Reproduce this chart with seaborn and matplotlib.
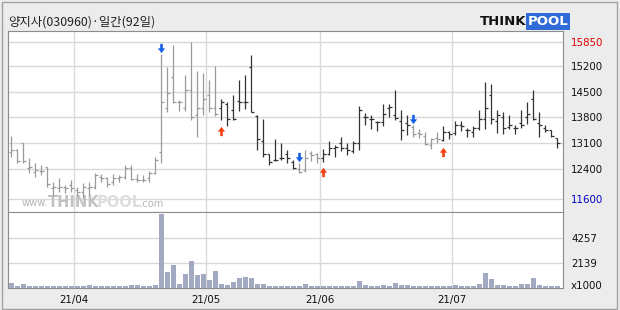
import matplotlib
matplotlib.use("Agg")
import matplotlib.pyplot as plt
import matplotlib.transforms as mtransforms
from matplotlib.path import Path
from matplotlib import font_manager
import matplotlib.patches as mpatches
import numpy as np
import pandas as pd
import seaborn as sns

# ---------------- data ----------------
title = "양지사(030960)·일간(92일)"
month_labels = ["21/04", "21/05", "21/06", "21/07"]
month_first_day = [11, 33, 52, 74]          # index of first trading day of each month
price_ticks = [15850, 15200, 14500, 13800, 13100, 12400, 11600]
vol_ticks = [4257, 2139]
vol_unit = "x1000"

open_ = [12860, 12920, 13100, 12440, 12330, 12350, 12450, 11880, 11880, 11930,
         11970, 11840, 11790, 11880, 11930, 12200, 12150, 12060, 12150, 12200,
         12440, 12130, 12110, 12150, 12290, 12860, 14050, 14890, 14230, 14050,
         14550, 13870, 14050, 14410, 14050, 14050, 14170, 13990, 14250, 14210,
         15180, 13850, 13160, 12800, 12640, 12690, 12800, 12600, 12410, 12380,
         12830, 12800, 12690, 12800, 12980, 13100, 12980, 12880, 13100, 13820,
         13760, 13670, 13690, 14050, 13870, 13700, 13640, 13550, 13370, 13310,
         13050, 13240, 13190, 13420, 13390, 13600, 13460, 13420, 13510, 13760,
         14410, 13700, 13820, 13550, 13510, 13640, 13820, 14300, 13640, 13510,
         13460, 13240]
high = [13300, 12950, 13100, 12690, 12560, 12510, 12460, 12060, 12150, 11970,
        12110, 11930, 12020, 12060, 12290, 12260, 12200, 12260, 12240, 12500,
        12500, 12260, 12240, 12350, 12740, 15520, 15170, 15760, 14270, 14950,
        15850, 15060, 15000, 14820, 15200, 14290, 14230, 14410, 14820, 14950,
        15480, 13870, 13760, 12800, 13220, 13120, 12920, 12650, 12560, 12920,
        12880, 12830, 12950, 13160, 13050, 13280, 13100, 13150, 14110, 13930,
        13870, 13700, 14170, 14170, 14550, 14000, 13870, 13600, 13490, 13420,
        13240, 13400, 13570, 13430, 13700, 13700, 13510, 13580, 14000, 14770,
        14710, 14000, 13940, 13870, 13600, 14000, 14230, 14550, 13940, 13600,
        13460, 13240]
low = [12740, 12560, 12580, 12290, 12200, 12240, 11930, 11660, 11790, 11750,
       11790, 11660, 11610, 11700, 11860, 12060, 11930, 11970, 12060, 12130,
       12110, 12040, 12040, 12040, 12260, 12580, 13940, 14180, 13980, 13980,
       13730, 13280, 13870, 13940, 13840, 13730, 13580, 13730, 13980, 14030,
       13940, 12920, 12740, 12500, 12620, 12650, 12560, 12410, 12290, 12330,
       12620, 12560, 12600, 12780, 12740, 12890, 12780, 12830, 12920, 13600,
       13490, 13440, 13580, 13800, 13730, 13190, 13330, 13280, 13240, 13050,
       12940, 13100, 13160, 13220, 13330, 13430, 13280, 13280, 13460, 13490,
       13620, 13370, 13350, 13480, 13340, 13510, 13620, 13730, 13280, 13400,
       13280, 12980]
close = [12920, 12620, 12620, 12450, 12380, 12350, 12000, 11930, 11930, 11900,
         11880, 11790, 11930, 11930, 12240, 12150, 11990, 12170, 12200, 12440,
         12130, 12110, 12110, 12290, 12650, 14210, 14460, 14210, 14210, 14550,
         13820, 14050, 14300, 14050, 13890, 14230, 13760, 13760, 14210, 14210,
         13940, 13210, 12800, 12600, 12640, 12690, 12690, 12440, 12330, 12690,
         12780, 12710, 12800, 12980, 13010, 12980, 12920, 13100, 14000, 13820,
         13760, 13690, 13890, 14090, 13780, 13460, 13600, 13350, 13340, 13070,
         13220, 13220, 13400, 13340, 13600, 13570, 13460, 13510, 13760, 14050,
         13750, 13870, 13510, 13600, 13510, 13600, 13890, 13760, 13600, 13460,
         13300, 13100]
volume = [410, 210, 325, 185, 210, 210, 155, 210, 155, 155,
          155, 155, 155, 240, 155, 155, 155, 155, 155, 155,
          240, 240, 155, 155, 240, 6270, 1370, 1940, 325, 1175,
          2280, 1090, 1175, 665, 1430, 325, 240, 495, 805, 920,
          835, 325, 325, 155, 155, 155, 155, 155, 155, 325,
          155, 155, 155, 155, 155, 155, 155, 155, 580, 240,
          155, 155, 240, 155, 410, 240, 240, 155, 155, 155,
          155, 155, 155, 155, 240, 155, 155, 155, 325, 1260,
          750, 240, 240, 155, 155, 325, 325, 835, 240, 155,
          155, 155]
sell_signals = [25, 48, 67]
buy_signals = [35, 52, 72]

# ---------------- style ----------------
sns.set_style("white")
names = {f.name for f in font_manager.fontManager.ttflist}
narrow = "Liberation Sans Narrow" in names
num_font = ["Liberation Sans Narrow", "DejaVu Sans"] if narrow else ["DejaVu Sans"]
num_size = 8.8 if narrow else 7.4
kr_font = ["Noto Sans CJK KR", "DejaVu Sans"]
plt.rcParams['font.family'] = kr_font

BG = '#ececec'
GRID = '#d9d9d9'
SPINE = '#8c8c8c'
GRAY_BAR = '#9a9a9a'
DARK_BAR = '#333333'
VOL = '#a2aac2'

n = len(close)
idx = np.arange(n)
df = pd.DataFrame({"i": idx, "open": open_, "high": high, "low": low,
                   "close": close, "volume": volume})

# state colour: gray after sell signal, dark after buy signal
state = []
cur = 'gray'
for i in idx:
    if i in sell_signals:
        cur = 'gray'
    if i in buy_signals:
        cur = 'dark'
    state.append(cur)
df["color"] = [GRAY_BAR if s == 'gray' else DARK_BAR for s in state]

W, H = 620, 310
fig = plt.figure(figsize=(6.2, 3.1), dpi=100, facecolor=BG)
fx = lambda p: p / W
fy = lambda p: 1 - p / H
L, R = 8, 562.7
ax = fig.add_axes([fx(L), fy(212), fx(R) - fx(L), fy(31) - fy(212)])
axv = fig.add_axes([fx(L), fy(288), fx(R) - fx(L), fy(212) - fy(288)])

for a in (ax, axv):
    a.set_facecolor('white')
    for s in a.spines.values():
        s.set_color(SPINE)
        s.set_linewidth(0.8)

xlim = (-0.55, n - 1 + 0.9)
grid_x = [m - 0.5 for m in month_first_day]

# ---- price panel ----
ax.set_ylim(11240, 16143)
ax.set_xlim(*xlim)
for gx in grid_x:
    ax.axvline(gx, color=GRID, lw=1.0, zorder=0)
for gy in price_ticks:
    ax.axhline(gy, color=GRID, lw=1.0, zorder=0)

tick = 0.42
lw_bar = 0.9
ax.vlines(df["i"], df["low"], df["high"], colors=df["color"], lw=lw_bar, zorder=3)
ax.hlines(df["open"], df["i"] - tick, df["i"], colors=df["color"], lw=lw_bar, zorder=3)
ax.hlines(df["close"], df["i"], df["i"] + tick, colors=df["color"], lw=lw_bar, zorder=3)

# signal arrows
down = Path([(-0.14, 0.5), (0.14, 0.5), (0.14, 0.02), (0.39, 0.02), (0, -0.5),
             (-0.39, 0.02), (-0.14, 0.02), (-0.14, 0.5)],
            [Path.MOVETO] + [Path.LINETO] * 6 + [Path.CLOSEPOLY])
up = Path([(x, -y) for x, y in down.vertices], down.codes)
tr_down = mtransforms.offset_copy(ax.transData, fig=fig, y=6.0, units='dots')
tr_up = mtransforms.offset_copy(ax.transData, fig=fig, y=-10.5, units='dots')
sd = df.loc[sell_signals]
bd = df.loc[buy_signals]
ax.scatter(sd["i"], sd["high"], marker=down, s=45, color='#1560e8',
           linewidths=0, transform=tr_down, zorder=5, clip_on=False)
ax.scatter(bd["i"], bd["low"], marker=up, s=45, color='#f5400f',
           linewidths=0, transform=tr_up, zorder=5, clip_on=False)

ax.set_xticks([])
ax.yaxis.tick_right()
ax.set_yticks(price_ticks)
ax.set_yticklabels([str(v) for v in price_ticks], family=num_font, fontsize=num_size)
ax.tick_params(axis='y', length=0, pad=6)
ax.grid(False)
labs = ax.get_yticklabels()
labs[0].set_color('#e00000')
labs[-1].set_color('#0000c8')
for lab in labs[1:-1]:
    lab.set_color('#111111')
ax.set_xlabel("")
ax.set_ylabel("")

# watermark
wm_y = 203
ax.text(fx(22) , fy(wm_y), "www.", transform=fig.transFigure, fontsize=7.2,
        color='#b5b5b5', va='center', ha='left', family=["DejaVu Sans"], zorder=1)
ax.text(fx(48), fy(wm_y - 0.5), "THINK", transform=fig.transFigure, fontsize=10.5,
        fontweight='bold', color='#c2c2c2', va='center', ha='left',
        family=["DejaVu Sans"], zorder=1)
ax.text(fx(97), fy(wm_y - 0.5), "POOL", transform=fig.transFigure, fontsize=10.5,
        fontweight='bold', color='#dedede', va='center', ha='left',
        family=["DejaVu Sans"], zorder=1)
ax.text(fx(140), fy(wm_y + 1), ".com", transform=fig.transFigure, fontsize=7.2,
        color='#b5b5b5', va='center', ha='left', family=["DejaVu Sans"], zorder=1)

# ---- volume panel ----
for gx in grid_x:
    axv.axvline(gx, color=GRID, lw=1.0, zorder=0)
for gy in vol_ticks:
    axv.axhline(gy, color=GRID, lw=1.0, zorder=0)
sns.barplot(data=df, x="i", y="volume", native_scale=True, color=VOL,
            saturation=1, width=0.84, errorbar=None, ax=axv, zorder=3,
            linewidth=0)
axv.set_xlim(*xlim)
axv.set_ylim(0, 6435)
axv.set_xlabel("")
axv.set_ylabel("")
axv.grid(False)
axv.yaxis.tick_right()
axv.set_yticks(vol_ticks)
axv.set_yticklabels([str(v) for v in vol_ticks], family=num_font,
                    fontsize=num_size, color='#111111')
axv.tick_params(axis='y', length=0, pad=6)
axv.set_xticks(grid_x)
axv.set_xticklabels(month_labels, family=num_font, fontsize=num_size, color='#111111')
axv.tick_params(axis='x', length=0, pad=5)
axv.annotate(vol_unit, xy=(1, 0), xycoords=('axes fraction', 'data'),
             xytext=(6, 1.5), textcoords='offset points', va='center', ha='left',
             family=num_font, fontsize=num_size, color='#111111', annotation_clip=False)

# ---- title & logo ----
fig.text(fx(8), fy(22.5), title, fontsize=8.9, color='#222222', va='center',
         ha='left', family=kr_font)
fig.text(fx(526.5), fy(21.5), "THINK", fontsize=9.5, fontweight='bold',
         color='#111111', va='center', ha='right', family=["DejaVu Sans"])
fig.text(fx(528), fy(21.5), "POOL", fontsize=9.5, fontweight='bold',
         color='white', va='center', ha='left', family=["DejaVu Sans"],
         bbox=dict(boxstyle='square,pad=0.12', fc='#2e6ad8', ec='none'))

# outer frame
fig.patches.append(mpatches.Rectangle((fx(1.5), fy(308.5)), fx(615), 307 / H,
                                      transform=fig.transFigure, fill=False,
                                      ec='#a0a0a0', lw=1.0))

fig.savefig("out.png", dpi=100, facecolor=BG)
